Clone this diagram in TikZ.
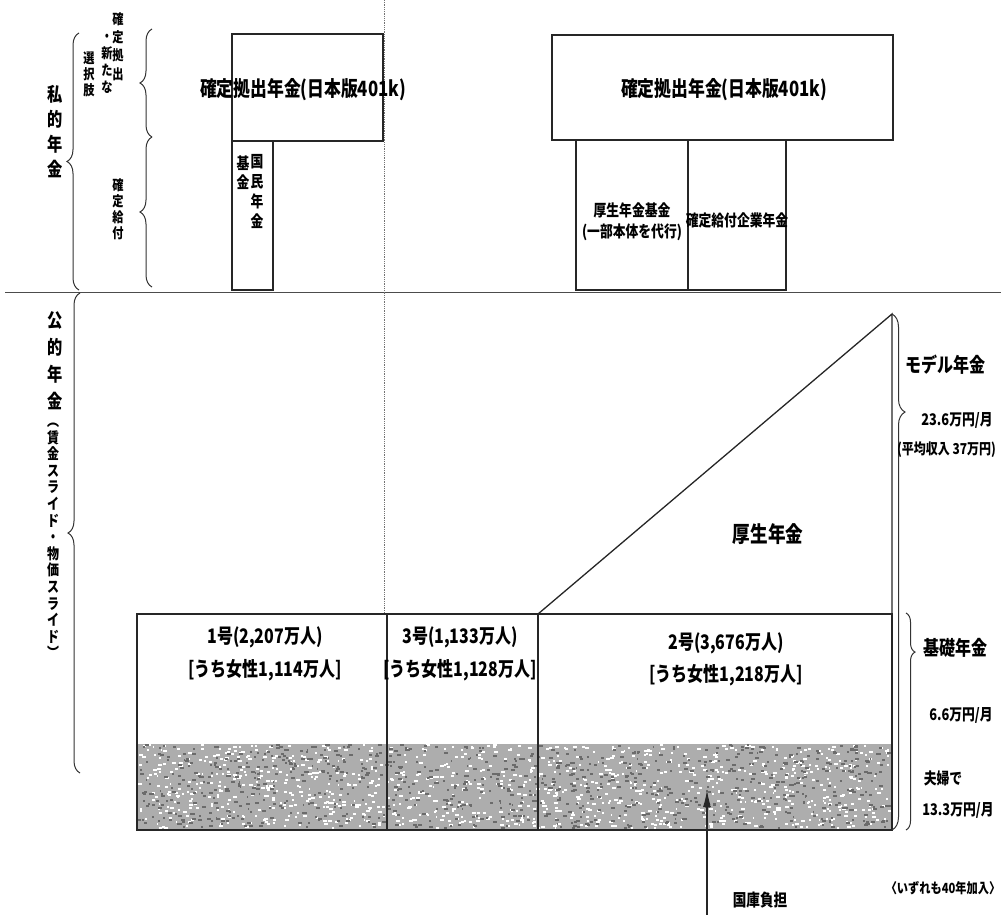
\documentclass[tikz,border=0pt]{standalone}
\usepackage{fontspec}
\setmainfont{Noto Sans CJK JP}[FakeStretch=0.8]
\usetikzlibrary{arrows.meta,decorations.pathreplacing}
\newcommand\jfs[2]{\fontsize{#1}{#2}\selectfont\bfseries}

\begin{document}
\begin{tikzpicture}[x=1pt,y=-1pt,
  every node/.style={inner sep=0pt, outer sep=0pt},
  frame/.style={draw=black!85, line width=1.3pt, anchor=north west, inner sep=0pt},
  rule/.style={draw=black!85, line width=1.3pt},
  brc/.style={draw=black!80, line width=1pt, decorate,
    decoration={brace, amplitude=#1}},
  vcol/.style={align=center},
]
\useasboundingbox (0,0) rectangle (1001,915);

% section separators
\coordinate (hl) at (5,292);
\coordinate (hr) at (1001,292);
\draw[black!70, line width=1pt] (hl) -- (hr);
\coordinate (vt) at (384,0);
\coordinate (vb) at (384,614);
\draw[black!55, line width=0.8pt, densely dotted] (vt) -- (vb);

% private pensions: upper boxes
\node[frame, minimum width=151pt, minimum height=107pt] (dcL) at (232,34) {};
\node[frame, minimum width=41pt, minimum height=149pt] (kkf) at (232,141) {};
\node[frame, minimum width=341pt, minimum height=105pt] (dcR) at (552,35) {};
\node[frame, minimum width=112pt, minimum height=150pt] (kkn) at (576,140) {};
\node[frame, minimum width=98pt, minimum height=150pt] (kdb) at (688,140) {};

\node[font=\jfs{21}{24}] (tdcL) at (303,90) {確定拠出年金(日本版401k)};
\node[font=\jfs{21}{24}] (tdcR) at (724,90) {確定拠出年金(日本版401k)};
\node[vcol, font=\jfs{16}{20.3}] (tkm) at (257,191.5) {国\\民\\年\\金};
\node[vcol, font=\jfs{16}{19}] (tkk) at (243,172.5) {基\\金};
\node[vcol, font=\jfs{16}{21}] (tkn) at (632,222) {厚生年金基金\\(一部本体を代行)};
\node[font=\jfs{16}{20}] (tkd) at (737,220) {確定給付企業年金};

% left-hand vertical labels and braces
\node[vcol, font=\jfs{19}{25}] (tpriv) at (55,132) {私\\的\\年\\金};
\node[vcol, font=\jfs{14}{18.3}] (tdc1) at (118,46.5) {確\\定\\拠\\出};
\node[vcol, font=\jfs{14}{17}] (tdc2) at (107,63.5) {・\\新\\た\\な};
\node[vcol, font=\jfs{14}{16}] (tdc3) at (89,74) {選\\択\\肢};
\node[vcol, font=\jfs{14}{16}] (tdb) at (118,209) {確\\定\\給\\付};
\node[vcol, font=\jfs{19}{27}] (tpub) at (55,361) {公\\的\\年\\金};
\node[vcol, font=\jfs{15}{16.6}] (tslide) at (53,541)
  {︵\\賃\\金\\ス\\ラ\\イ\\ド\\・\\物\\価\\ス\\ラ\\イ\\ド\\︶};

\coordinate (bp1) at (79,290);
\coordinate (bp2) at (79,33);
\draw[brc=12pt] (bp1) -- (bp2);
\coordinate (bq1) at (152,137);
\coordinate (bq2) at (152,29);
\draw[brc=12pt] (bq1) -- (bq2);
\coordinate (bq3) at (152,287);
\draw[brc=12pt] (bq3) -- (bq1);
\coordinate (bs1) at (80,773);
\coordinate (bs2) at (80,293);
\draw[brc=12pt] (bs1) -- (bs2);

% public pensions: shaded band (state contribution)
\fill[black!32] (137,744) rectangle (892,830);
\pgfmathsetseed{17}
\foreach \i in {1,...,1100}{
  \pgfmathsetmacro\rx{138+750*rnd}
  \pgfmathsetmacro\ry{744+83*rnd}
  \pgfmathsetmacro\rw{1.5+2.5*rnd}
  \fill[white] (\rx,\ry) rectangle ++(\rw,2);
}
\foreach \i in {1,...,900}{
  \pgfmathsetmacro\rx{138+750*rnd}
  \pgfmathsetmacro\ry{744+83*rnd}
  \pgfmathsetmacro\rw{1.5+3*rnd}
  \fill[black!58] (\rx,\ry) rectangle ++(\rw,2);
}

% basic pension blocks
\node[frame, minimum width=250pt, minimum height=216pt] (g1) at (137,614) {};
\node[frame, minimum width=151pt, minimum height=216pt] (g3) at (387,614) {};
\node[frame, minimum width=354pt, minimum height=216pt] (g2) at (538,614) {};

\node[vcol, font=\jfs{20}{33}] (tg1) at (265,653.5) {1号(2,207万人)\\{[}うち女性1,114万人]};
\node[vcol, font=\jfs{20}{33}] (tg3) at (460,653.5) {3号(1,133万人)\\{[}うち女性1,128万人]};
\node[vcol, font=\jfs{20}{32}] (tg2) at (726,659) {2号(3,676万人)\\{[}うち女性1,218万人]};

% earnings-related pension on top of group 2
\coordinate (apex) at (892,314);
\draw[rule, line join=miter] (g2.north west) -- (apex) -- (g2.north east);
\node[font=\jfs{22}{24}] (tkosei) at (768,534) {厚生年金};

% right-hand braces and amounts
\draw[brc=13pt, decoration={aspect=0.19}] (apex) -- (g2.south east);
\coordinate (bk1) at (906,613);
\coordinate (bk2) at (906,830);
\draw[brc=9pt, decoration={aspect=0.18}] (bk1) -- (bk2);

\node[font=\jfs{20}{22}] (tmodel) at (945,365) {モデル年金};
\node[font=\jfs{16}{18}] (tm1) at (957,420) {23.6万円/月};
\node[font=\jfs{15}{17}, anchor=west] (tm2) at (897,450) {(平均収入 37万円)};
\node[font=\jfs{20}{22}] (tkiso) at (955,648) {基礎年金};
\node[font=\jfs{16}{18}] (tk1) at (961,715) {6.6万円/月};
\node[font=\jfs{16}{18}] (tk2) at (943,778) {夫婦で};
\node[font=\jfs{16}{18}] (tk3) at (958,810) {13.3万円/月};
\node[font=\jfs{14}{16}] (tnote) at (943,888) {〈いずれも40年加入〉};

% state subsidy arrow
\coordinate (afoot) at (707,915);
\coordinate (atip) at (707,790);
\draw[black!85, line width=1.2pt, -{Latex[length=17pt,width=8pt]}] (afoot) -- (atip);
\node[font=\jfs{17}{19}] (tkokko) at (760,900) {国庫負担};
\end{tikzpicture}
\end{document}
